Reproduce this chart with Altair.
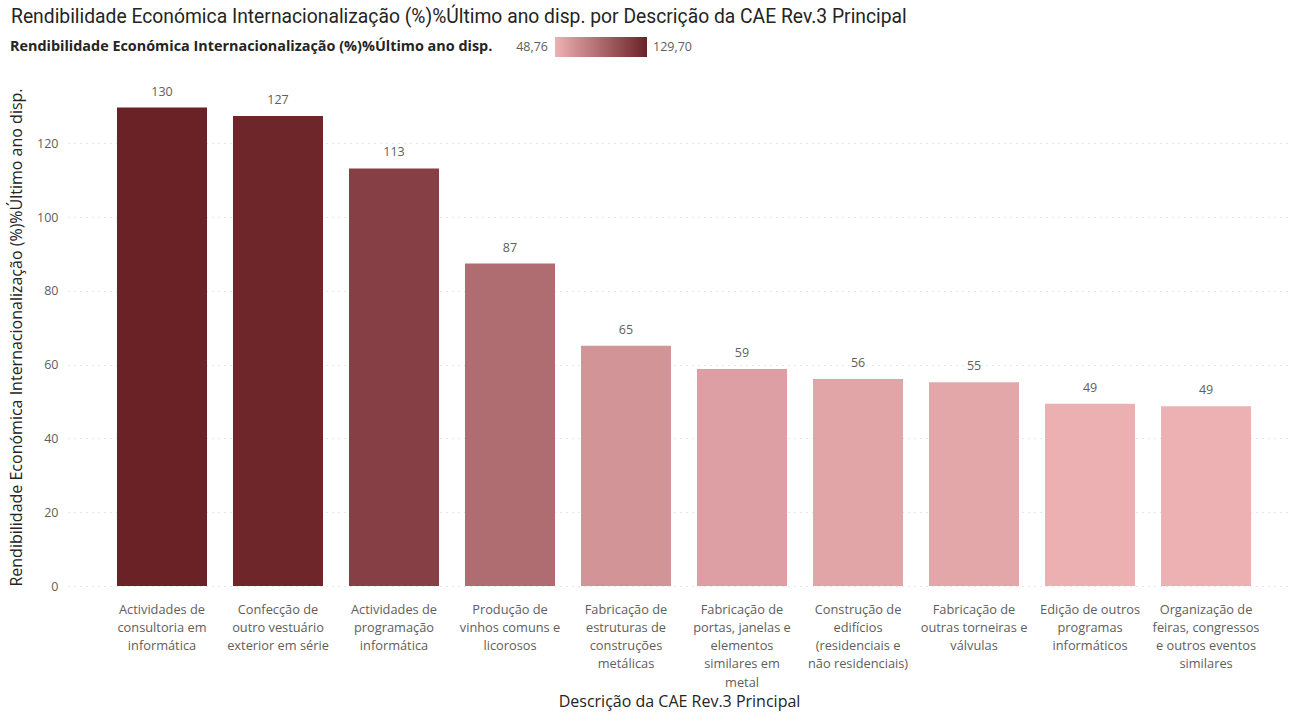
import altair as alt
import pandas as pd

TITLE = "Rendibilidade Económica Internacionalização (%)%Último ano disp. por Descrição da CAE Rev.3 Principal"
MEASURE = "Rendibilidade Económica Internacionalização (%)%Último ano disp."
X_TITLE = "Descrição da CAE Rev.3 Principal"

categories = [
    "Actividades de|consultoria em|informática",
    "Confecção de|outro vestuário|exterior em série",
    "Actividades de|programação|informática",
    "Produção de|vinhos comuns e|licorosos",
    "Fabricação de|estruturas de|construções|metálicas",
    "Fabricação de|portas, janelas e|elementos|similares em|metal",
    "Construção de|edifícios|(residenciais e|não residenciais)",
    "Fabricação de|outras torneiras e|válvulas",
    "Edição de outros|programas|informáticos",
    "Organização de|feiras, congressos|e outros eventos|similares",
]
values = [129.70, 127.4, 113.2, 87.4, 65.1, 58.8, 56.1, 55.2, 49.4, 48.76]
color_range = ["#EDB1B4", "#6B2227"]
legend_min_label = "48,76"
legend_max_label = "129,70"

df = pd.DataFrame({"cat": categories, "val": values})

AX_FONT = "Open Sans"
T_FONT = "Roboto"

x_enc = alt.X(
    "cat:N",
    sort=None,
    title=X_TITLE,
    scale=alt.Scale(paddingInner=0.224, paddingOuter=0.379, align=0.557),
    axis=alt.Axis(
        labelAngle=0,
        labelExpr="split(datum.label, '|')",
        labelLineHeight=18.3,
        labelFont=AX_FONT,
        labelFontSize=12.8,
        labelColor="#605E5C",
        labelPadding=17,
        labelLimit=200,
        ticks=False,
        domain=False,
        titleFont=AX_FONT,
        titleFontSize=16,
        titleFontWeight="normal",
        titleColor="#252423",
        titlePadding=4,
    ),
)
y_enc = alt.Y(
    "val:Q",
    title=MEASURE,
    scale=alt.Scale(domain=[0, 135], nice=False),
    axis=alt.Axis(
        values=[0, 20, 40, 60, 80, 100, 120],
        labelFont=AX_FONT,
        labelFontSize=12.5,
        labelColor="#605E5C",
        labelPadding=10,
        ticks=False,
        domain=False,
        grid=True,
        gridColor="#D0CECC",
        gridDash=[1, 5],
        gridWidth=1,
        titleFont=AX_FONT,
        titleFontSize=16,
        titleFontWeight="normal",
        titleColor="#252423",
        titlePadding=12,
    ),
)

bars = alt.Chart(df).mark_bar().encode(
    x=x_enc,
    y=y_enc,
    color=alt.Color(
        "val:Q",
        scale=alt.Scale(domain=[min(values), max(values)], range=color_range, interpolate="rgb"),
        legend=alt.Legend(
            orient="none",
            legendX=555 - 68,
            legendY=-51,
            direction="horizontal",
            title=None,
            labelExpr="''",
            labelOpacity=0,
            gradientLength=92,
            gradientThickness=20,
            gradientStrokeWidth=0,
        ),
    ),
)

labels = alt.Chart(df).mark_text(
    dy=-9, baseline="bottom", font=AX_FONT, fontSize=12.5, color="#605E5C"
).encode(x=alt.X("cat:N", sort=None), y="val:Q", text=alt.Text("val:Q", format=".0f"))

leg_df = pd.DataFrame(
    {"t": [MEASURE, legend_min_label, legend_max_label], "side": ["title", "min", "max"]}
)
leg_title = alt.Chart(leg_df[leg_df.side == "title"]).mark_text(
    align="left", baseline="middle", font=AX_FONT, fontSize=14.4,
    fontWeight="bold", color="#252423"
).encode(x=alt.value(10 - 68), y=alt.value(47 - 88), text="t:N")
leg_min = alt.Chart(leg_df[leg_df.side == "min"]).mark_text(
    align="right", baseline="middle", font=AX_FONT, fontSize=12.5, color="#605E5C"
).encode(x=alt.value(548 - 68), y=alt.value(47 - 88), text="t:N")
leg_max = alt.Chart(leg_df[leg_df.side == "max"]).mark_text(
    align="left", baseline="middle", font=AX_FONT, fontSize=12.5, color="#605E5C"
).encode(x=alt.value(653 - 68), y=alt.value(47 - 88), text="t:N")

chart = alt.layer(bars, labels, leg_title, leg_min, leg_max).properties(
    width=1222,
    height=498,
    padding={"left": 68, "top": 88, "right": 5, "bottom": 127},
    autosize=alt.AutoSizeParams(type="none"),
    background="white",
    title=alt.TitleParams(
        TITLE,
        anchor="start",
        frame="group",
        dx=-57,
        font=T_FONT,
        fontSize=19.3,
        fontWeight="normal",
        color="#252423",
        offset=10,
    ),
).configure_view(stroke=None, strokeWidth=0)

chart.save("out.html", embed_options={"renderer": "svg", "actions": False})
